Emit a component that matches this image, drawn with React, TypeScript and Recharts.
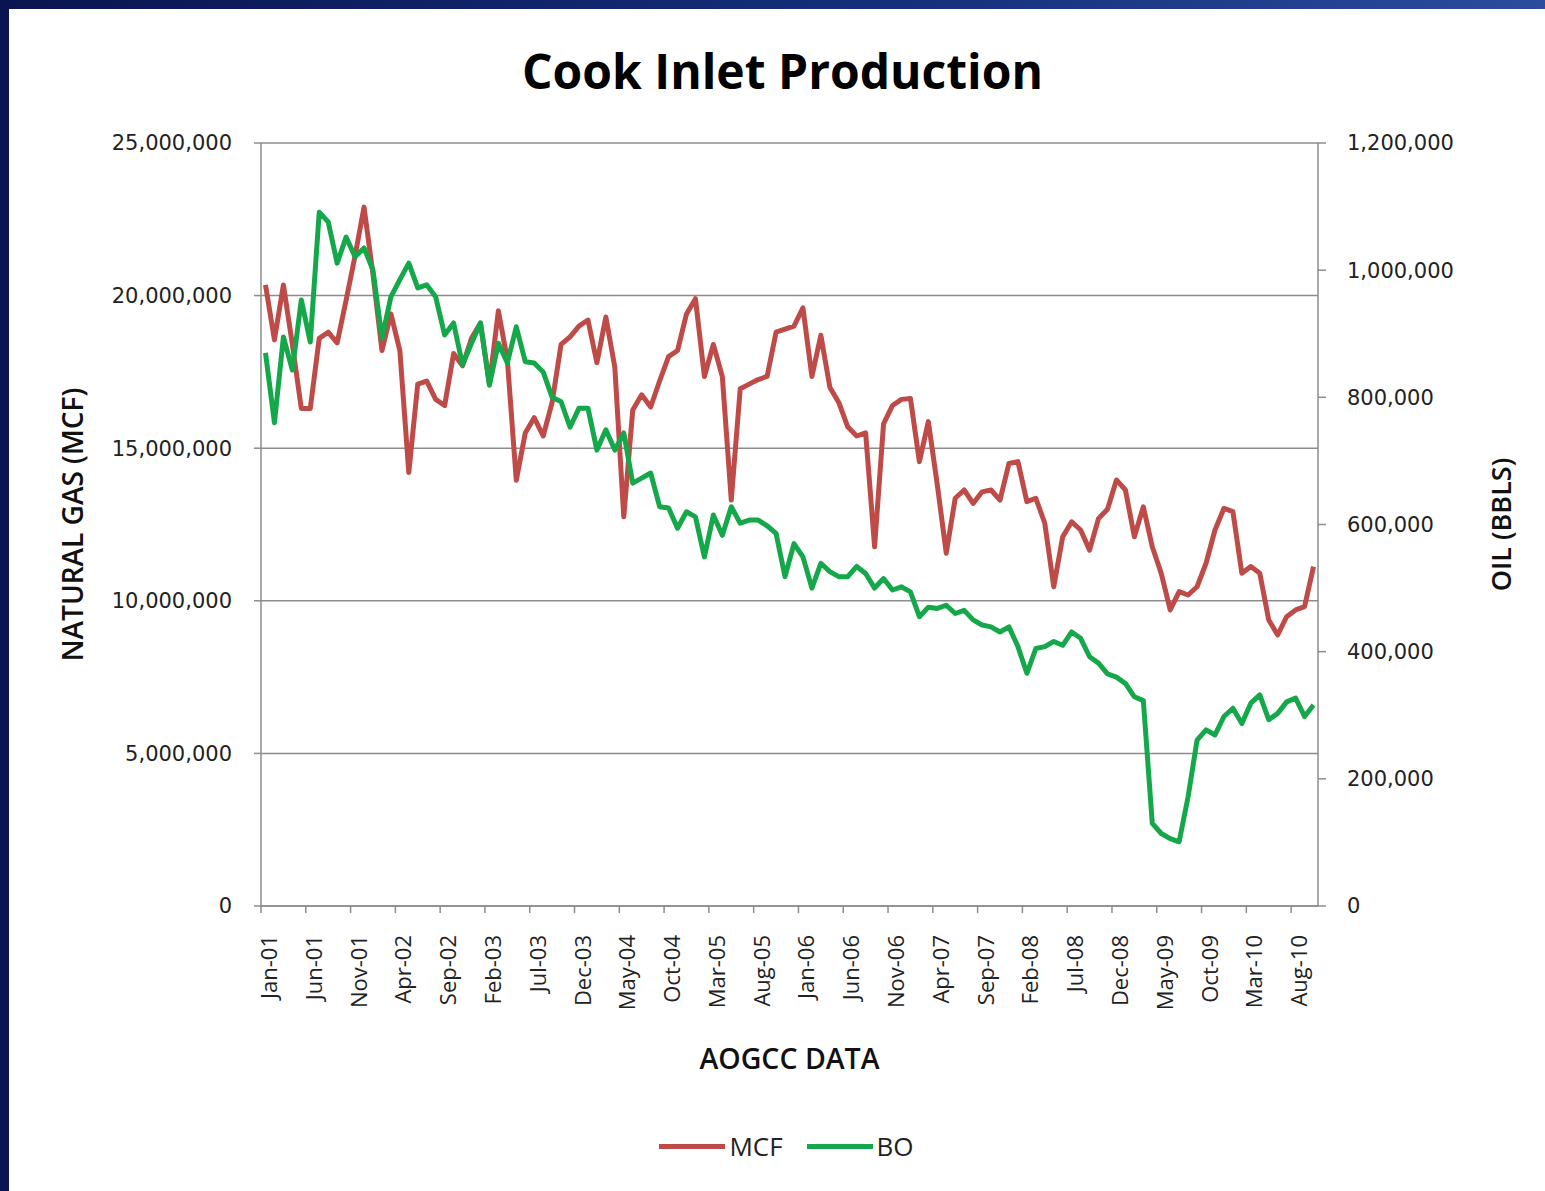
import React from "react";
import { LineChart, Line, XAxis, YAxis, CartesianGrid, Legend } from "recharts";

// every 5th month is labelled, Jan-01 .. Aug-10
const TICK_LABELS = [
  "Jan-01", "Jun-01", "Nov-01", "Apr-02", "Sep-02", "Feb-03", "Jul-03", "Dec-03",
  "May-04", "Oct-04", "Mar-05", "Aug-05", "Jan-06", "Jun-06", "Nov-06", "Apr-07",
  "Sep-07", "Feb-08", "Jul-08", "Dec-08", "May-09", "Oct-09", "Mar-10", "Aug-10",
];

const SERIES_NAMES = ["MCF", "BO"];

// natural gas, MCF per month, Jan-01 .. Oct-10
const MCF = [
  20350000, 18550000, 20350000, 18400000, 16300000, 16300000, 18600000, 18800000, 18450000, 19850000,
  21300000, 22900000, 20700000, 18200000, 19400000, 18200000, 14200000, 17100000, 17200000, 16600000,
  16400000, 18100000, 17700000, 18600000, 19100000, 17100000, 19500000, 17900000, 13950000, 15500000,
  16000000, 15400000, 16500000, 18400000, 18650000, 19000000, 19200000, 17800000, 19300000, 17650000,
  12750000, 16250000, 16750000, 16350000, 17200000, 18000000, 18200000, 19400000, 19900000, 17350000,
  18400000, 17350000, 13300000, 16950000, 17100000, 17250000, 17350000, 18800000, 18900000, 19000000,
  19600000, 17350000, 18700000, 17000000, 16500000, 15700000, 15400000, 15500000, 11770000, 15800000,
  16400000, 16600000, 16630000, 14560000, 15870000, 13800000, 11560000, 13360000, 13630000, 13190000,
  13570000, 13630000, 13300000, 14500000, 14560000, 13250000, 13360000, 12540000, 10460000, 12100000,
  12590000, 12320000, 11660000, 12700000, 13000000, 13960000, 13630000, 12100000, 13080000, 11770000,
  10900000, 9700000, 10300000, 10190000, 10460000, 11230000, 12320000, 13030000, 12920000, 10900000,
  11120000, 10900000, 9370000, 8880000, 9480000, 9700000, 9810000, 11120000,
];

// oil, barrels per month, same months
const BO = [
  870000, 760000, 895000, 843000, 953000, 887000, 1091000, 1076000, 1011000, 1052000,
  1021000, 1035000, 1000000, 893000, 958000, 985000, 1011000, 972000, 977000, 958000,
  898000, 917000, 851000, 885000, 917000, 819000, 885000, 854000, 911000, 856000,
  854000, 840000, 800000, 793000, 753000, 783000, 783000, 717000, 749000, 717000,
  744000, 665000, 673000, 681000, 628000, 626000, 594000, 620000, 612000, 549000,
  615000, 583000, 628000, 602000, 607000, 607000, 598000, 586000, 518000, 570000,
  549000, 500000, 539000, 526000, 518000, 518000, 534000, 523000, 500000, 515000,
  497000, 502000, 494000, 455000, 470000, 468000, 473000, 460000, 465000, 450000,
  442000, 439000, 431000, 439000, 408000, 366000, 405000, 408000, 416000, 410000,
  431000, 421000, 392000, 382000, 365000, 360000, 350000, 329000, 323000, 130000,
  114000, 106000, 101000, 172000, 261000, 277000, 269000, 298000, 311000, 287000,
  319000, 332000, 293000, 303000, 321000, 327000, 298000, 316000,
];

const GAS_TICKS = [0, 5000000, 10000000, 15000000, 20000000, 25000000];
const OIL_TICKS = [0, 200000, 400000, 600000, 800000, 1000000, 1200000];

const RED = "#be4b48";
const GREEN = "#14a84b";
const AXIS = "#8c8c8c";

// each month sits in the middle of its slot
const data = MCF.map((v, i) => ({ t: i + 0.5, mcf: v, bo: BO[i] }));
const monthTicks = TICK_LABELS.map((_, k) => k * 5);

const fmt = (v: number) => v.toLocaleString("en-US");

const MonthTick = (p: any) => {
  const label = TICK_LABELS[Math.round(p.payload.value / 5)];
  const cx = p.x + 7;
  const cy = p.y;
  return (
    <text
      x={cx}
      y={cy}
      transform={`rotate(-90, ${cx}, ${cy})`}
      textAnchor="end"
      dominantBaseline="central"
      fill="#222"
      fontSize={22}
      fontFamily="Open Sans"
    >
      {label}
    </text>
  );
};

const titleStyle = {
  fill: "#111",
  fontFamily: "Open Sans",
  fontWeight: 600,
};

const GasTitle = (props: any) => {
  const vb = props.viewBox || { x: 0, y: 143, width: 261, height: 763 };
  const x = vb.x + 72;
  const y = vb.y + vb.height / 2;
  return (
    <text x={x} y={y} transform={`rotate(-90, ${x}, ${y})`} textAnchor="middle" dominantBaseline="central" fontSize={28} {...titleStyle}>
      NATURAL GAS (MCF)
    </text>
  );
};

const OilTitle = (props: any) => {
  const vb = props.viewBox || { x: 1318, y: 143, width: 227, height: 763 };
  const x = vb.x + 182;
  const y = vb.y + vb.height / 2;
  return (
    <text x={x} y={y} transform={`rotate(-90, ${x}, ${y})`} textAnchor="middle" dominantBaseline="central" fontSize={27} {...titleStyle}>
      OIL (BBLS)
    </text>
  );
};

const SourceTitle = (props: any) => {
  const vb = props.viewBox || { x: 261, y: 906, width: 1057, height: 218 };
  return (
    <text x={vb.x + vb.width / 2} y={vb.y + 152} textAnchor="middle" dominantBaseline="central" fontSize={28.5} {...titleStyle}>
      AOGCC DATA
    </text>
  );
};

const renderLegend = (props: any) => {
  const items = [...(props.payload || [])].sort(
    (a: any, b: any) => SERIES_NAMES.indexOf(a.value) - SERIES_NAMES.indexOf(b.value)
  );
  return (
    <div
      style={{
        display: "flex",
        justifyContent: "center",
        alignItems: "center",
        height: 44,
        paddingLeft: 28,
        fontFamily: "Open Sans",
        fontSize: 26,
        color: "#222",
      }}
    >
      {items.map((p: any) => (
        <span key={p.value} style={{ display: "inline-flex", alignItems: "center", margin: "0 12px" }}>
          <span style={{ display: "inline-block", width: 66, height: 5, background: p.color, marginRight: 4 }} />
          {p.value}
        </span>
      ))}
    </div>
  );
};

export default function App() {
  return (
    <div
      style={{
        position: "absolute",
        left: 0,
        top: 0,
        width: 1545,
        height: 1191,
        overflow: "hidden",
        background: "linear-gradient(90deg, #0a1450 0%, #16307e 60%, #2c4c9c 100%)",
      }}
    >
      <div style={{ position: "absolute", left: 9, top: 9, right: 0, bottom: 0, background: "#fff" }} />
      <div style={{ position: "absolute", left: 0, top: 0 }}>
        <LineChart width={1545} height={1191} data={data} margin={{ top: 143, right: 0, bottom: 23, left: 0 }}>
          <CartesianGrid yAxisId="gas" vertical={false} stroke={AXIS} strokeWidth={1.5} />
          <XAxis
            type="number"
            dataKey="t"
            domain={[0, MCF.length]}
            ticks={monthTicks}
            interval={0}
            height={218}
            tickSize={7}
            tickMargin={22}
            tick={MonthTick}
            axisLine={{ stroke: AXIS, strokeWidth: 1.5 }}
            tickLine={{ stroke: AXIS, strokeWidth: 1.5 }}
            label={SourceTitle}
          />
          <YAxis
            yAxisId="gas"
            domain={[0, 25000000]}
            ticks={GAS_TICKS}
            interval={0}
            width={261}
            tickSize={7}
            tickMargin={22}
            tickFormatter={fmt}
            tick={{ fill: "#222", fontSize: 21, fontFamily: "DejaVu Sans" }}
            axisLine={{ stroke: AXIS, strokeWidth: 1.5 }}
            tickLine={{ stroke: AXIS, strokeWidth: 1.5 }}
            label={GasTitle}
          />
          <YAxis
            yAxisId="oil"
            orientation="right"
            domain={[0, 1200000]}
            ticks={OIL_TICKS}
            interval={0}
            width={227}
            tickSize={8}
            tickMargin={21}
            tickFormatter={fmt}
            tick={{ fill: "#222", fontSize: 21, fontFamily: "DejaVu Sans" }}
            axisLine={{ stroke: AXIS, strokeWidth: 1.5 }}
            tickLine={{ stroke: AXIS, strokeWidth: 1.5 }}
            label={OilTitle}
          />
          <Legend verticalAlign="bottom" content={renderLegend} />
          <Line
            yAxisId="gas"
            dataKey="mcf"
            name="MCF"
            type="linear"
            stroke={RED}
            strokeWidth={5}
            strokeLinejoin="round"
            dot={false}
            isAnimationActive={false}
          />
          <Line
            yAxisId="oil"
            dataKey="bo"
            name="BO"
            type="linear"
            stroke={GREEN}
            strokeWidth={5}
            strokeLinejoin="round"
            dot={false}
            isAnimationActive={false}
          />
        </LineChart>
      </div>
      <div
        style={{
          position: "absolute",
          left: 10,
          top: 38,
          width: 1545,
          textAlign: "center",
          fontFamily: "Open Sans",
          fontWeight: 700,
          fontSize: 48,
          color: "#000",
          lineHeight: "normal",
        }}
      >
        Cook Inlet Production
      </div>
    </div>
  );
}
